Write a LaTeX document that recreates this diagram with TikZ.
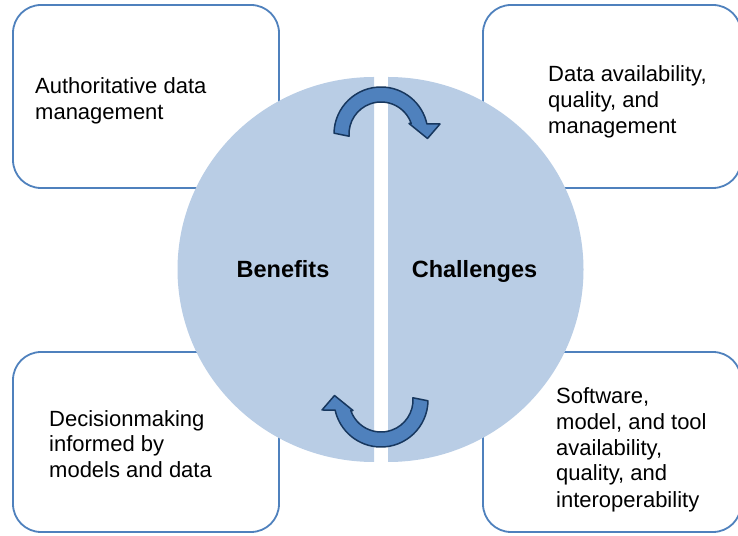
\documentclass[tikz,border=0pt]{standalone}
\usepackage{fontspec}
\setmainfont{Liberation Sans}
\usepackage{tikz}

\definecolor{boxline}{HTML}{4F81BD}
\definecolor{discfill}{HTML}{B9CDE5}
\definecolor{arrowfill}{HTML}{4F81BD}
\definecolor{arrowline}{HTML}{17375E}

\tikzset{
  itembox/.style={draw=boxline, line width=1.8pt, fill=white, rounded corners=28pt},
  halfdisc/.style={fill=discfill},
  % placed at the baseline of the last line
  itemtext/.style={anchor=base west, align=left, inner sep=0pt,
    font=\fontsize{22}{26}\selectfont},
  sidetext/.style={anchor=base, inner sep=0pt,
    font=\fontsize{23.5}{28}\selectfont\bfseries},
  % curved block arrow, turning clockwise over the top
  pics/turn/.style={code={
    \draw[fill=arrowfill, draw=arrowline, line width=1.5pt, line join=round]
      (179:47) arc[start angle=179, end angle=12.3, radius=47]
      -- (59,10) -- (46.5,-4.5) -- (28,10.5)
      -- (19.2:32) arc[start angle=19.2, end angle=184, radius=32] -- cycle;
  }}
}

\begin{document}
\begin{tikzpicture}[x=1pt, y=1pt]
\useasboundingbox (0,0) rectangle (738,535);

% the four corner boxes
\draw[itembox] (13,347) rectangle (279,530);
\draw[itembox] (483,347) rectangle (741,530);
\draw[itembox] (13,3) rectangle (279,183);
\draw[itembox] (483,3) rectangle (741,183);

% split disc
\fill[halfdisc] (374,458) arc[start angle=90, end angle=270, x radius=196.5, y radius=192.5] -- cycle;
\fill[halfdisc] (388,458) arc[start angle=90, end angle=-90, x radius=195.5, y radius=192.5] -- cycle;

\pic at (381,401) {turn};
\pic[rotate=180] at (381,135) {turn};

\node[sidetext] (benefits) at (283,257) {Benefits};
\node[sidetext] (challenges) at (474.5,257) {Challenges};

\node[itemtext] (authdata) at (35,415) {Authoritative data\\management};
\node[itemtext] (dataqual) at (548,401) {Data availability,\\quality, and\\management};
\node[itemtext] (decision) at (49,57) {Decisionmaking\\informed by\\models and data};
\node[itemtext] (software) at (556,28) {Software,\\model, and tool\\availability,\\quality, and\\interoperability};
\end{tikzpicture}
\end{document}
